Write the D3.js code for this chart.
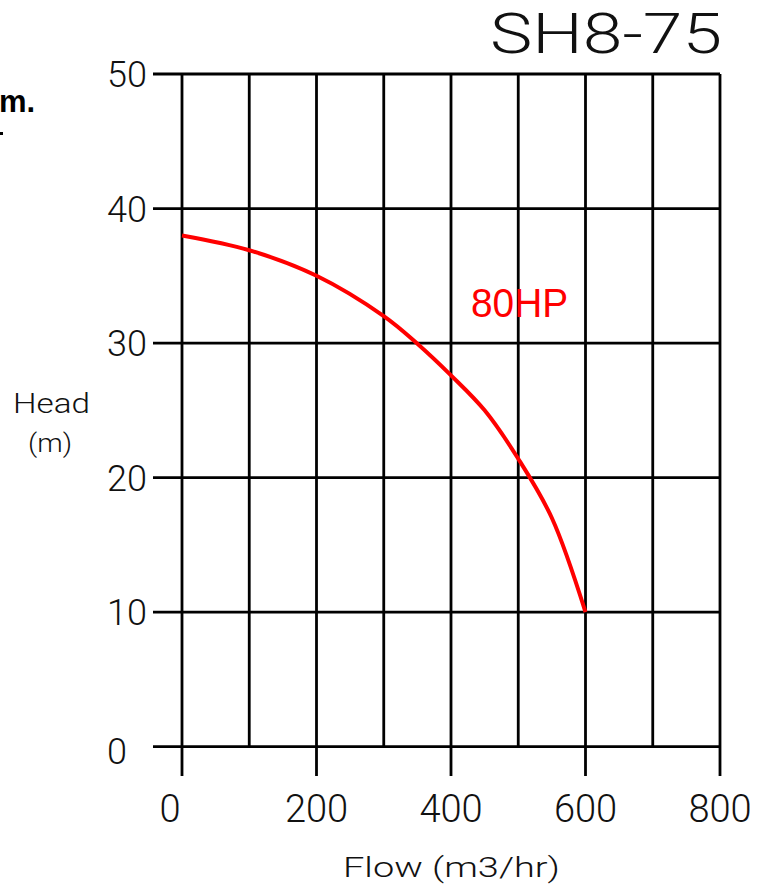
<!DOCTYPE html>
<html>
<head>
<meta charset="utf-8">
<script src="https://cdn.jsdelivr.net/npm/d3@7"></script>
<style>
  html, body { margin: 0; padding: 0; background: #fff; }
  svg { display: block; }
  .cad { font-family: Roboto, "DejaVu Sans", sans-serif; font-weight: 300; fill: #111; }
</style>
</head>
<body>
<svg id="chart" width="760" height="884"></svg>
<script>
// ---- data ----
const flow = [0, 100, 200, 300, 350, 400, 450, 500, 550, 600];
const head = [38, 36.9, 35.0, 32.0, 29.95, 27.6, 25.0, 21.4, 17.0, 10.0];
const xTicks = [0, 100, 200, 300, 400, 500, 600, 700, 800];
const xLabels = [0, 200, 400, 600, 800];
const yTicks = [0, 10, 20, 30, 40, 50];
const title = "SH8-75";
const curveLabel = "80HP";
const xTitle = "Flow (m3/hr)";
const yTitle = ["Head", "(m)"];

const svg = d3.select("#chart");
const x = d3.scaleLinear().domain([0, 800]).range([182, 720]);
const y = d3.scaleLinear().domain([0, 50]).range([746.7, 74]);

// horizontal grid lines (extend left as ticks)
svg.append("g").selectAll("line").data(yTicks).join("line")
  .attr("x1", 153).attr("x2", x(800))
  .attr("y1", d => y(d)).attr("y2", d => y(d))
  .attr("stroke", "#000").attr("stroke-width", 2.8);

// vertical grid lines, major ones extend below the axis
svg.append("g").selectAll("line").data(xTicks).join("line")
  .attr("x1", d => x(d)).attr("x2", d => x(d))
  .attr("y1", y(50))
  .attr("y2", d => xLabels.includes(d) ? 776 : y(0))
  .attr("stroke", "#000").attr("stroke-width", 2.8);

// y tick labels
svg.append("g").selectAll("text").data(yTicks).join("text")
  .attr("class", "cad")
  .attr("x", 107).attr("y", d => y(d) + 13 + (d === 0 ? 4 : 0))
  .attr("font-size", 36)
  .text(d => d);

// x tick labels
svg.append("g").selectAll("text").data(xLabels).join("text")
  .attr("class", "cad")
  .attr("x", d => x(d) + (d === 0 ? -12 : 0)).attr("y", 822)
  .attr("text-anchor", "middle")
  .attr("font-size", 38)
  .text(d => d);

// axis titles
svg.append("text").attr("class", "cad")
  .attr("x", 343).attr("y", 877).attr("font-size", 28)
  .attr("textLength", 217).attr("lengthAdjust", "spacingAndGlyphs")
  .text(xTitle);
svg.append("text").attr("class", "cad")
  .attr("x", 13).attr("y", 413).attr("font-size", 28)
  .attr("textLength", 77).attr("lengthAdjust", "spacingAndGlyphs")
  .text(yTitle[0]);
svg.append("text").attr("class", "cad")
  .attr("x", 28).attr("y", 452).attr("font-size", 26)
  .attr("textLength", 44).attr("lengthAdjust", "spacingAndGlyphs")
  .text(yTitle[1]);

// title
svg.append("text").attr("class", "cad")
  .attr("x", 490).attr("y", 53).attr("font-size", 56)
  .attr("textLength", 232).attr("lengthAdjust", "spacingAndGlyphs")
  .text(title);

// left cut-off text
svg.append("text")
  .attr("x", -1).attr("y", 112)
  .attr("font-family", "'Liberation Sans', Arial, sans-serif")
  .attr("font-weight", "bold").attr("font-size", 31).attr("fill", "#000")
  .text("m.");
svg.append("rect").attr("x", 0).attr("y", 132).attr("width", 3).attr("height", 3).attr("fill", "#000");

// curve
const pts = flow.map((f, i) => [f, head[i]]);
svg.append("path")
  .datum(pts)
  .attr("fill", "none").attr("stroke", "#ff0000").attr("stroke-width", 4)
  .attr("d", d3.line().x(d => x(d[0])).y(d => y(d[1])).curve(d3.curveCatmullRom.alpha(0.5)));

// curve label
svg.append("text")
  .attr("x", 471).attr("y", 317)
  .attr("font-family", "'Liberation Sans', Arial, sans-serif")
  .attr("font-size", 40).attr("fill", "#ff0000")
  .attr("textLength", 97).attr("lengthAdjust", "spacingAndGlyphs")
  .text(curveLabel);
</script>
</body>
</html>
